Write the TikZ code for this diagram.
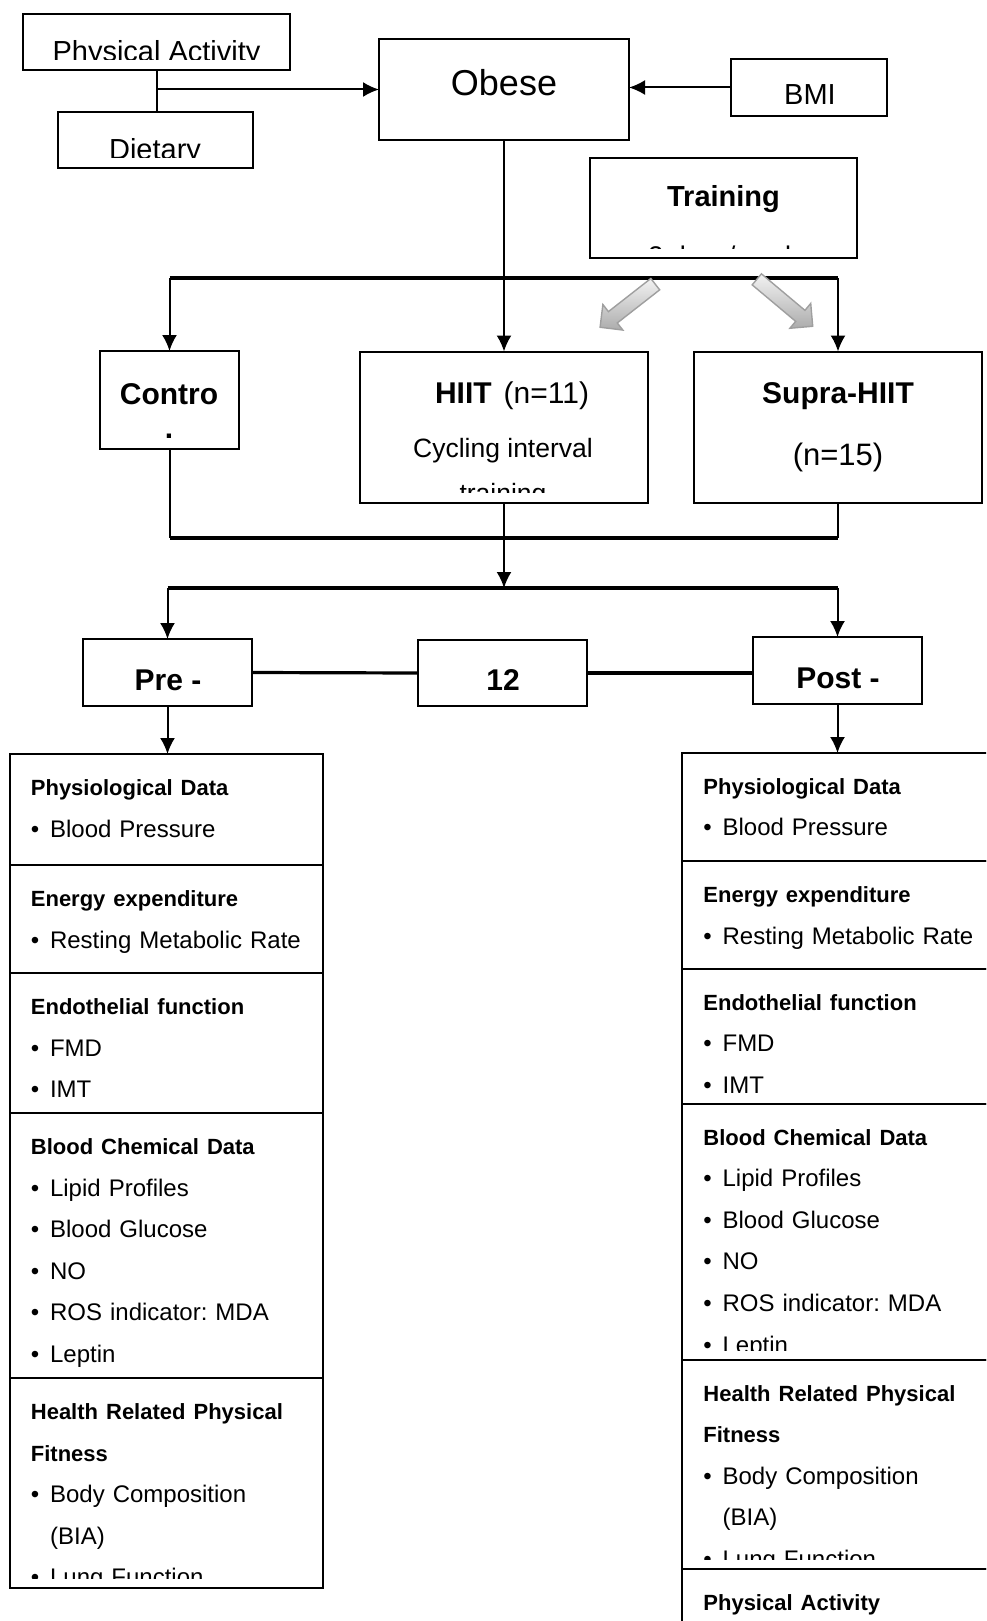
\documentclass[tikz,border=0pt]{standalone}
\usepackage{fontspec}
\setmainfont{Liberation Sans}
\usetikzlibrary{positioning,arrows.meta,shapes.arrows}
\frenchspacing

\newcommand{\sechead}[1]{{\bfseries\fontsize{11}{20.8}\selectfont #1}}
\newcommand{\bul}{\textbullet\hspace{0.45em}}

\begin{document}
\begin{tikzpicture}[x=0.5pt,y=-0.5pt,
	box/.style={draw,line width=1pt,inner sep=0pt,outer sep=0pt},
	lsec/.style={box,minimum width=156.5pt,anchor=north},
	rsec/.style={box,minimum width=161.5pt,anchor=north},
	txt/.style={inner sep=0pt,anchor=base},
	big/.style={txt,font=\bfseries\fontsize{15}{18}\selectfont},
	list/.style={inner sep=0pt,anchor=base west,text width=150pt,align=left,font=\fontsize{12}{20.8}\selectfont},
	line/.style={line width=1pt},
	bar/.style={line width=1.6pt},
	garrow/.style={single arrow,draw=gray!75,top color=gray!10,bottom color=gray!65,inner sep=3.25pt,single arrow head extend=4.5pt,line width=0.7pt},
	>={Latex[length=8pt,width=7.5pt]}]
	\path[use as bounding box,clip] (0,0) rectangle (986,1621);
	%
	% boxes
	\node[box,minimum width=133.5pt,minimum height=28pt] (pa) at (156.5,42) {};
	\node[box,minimum width=97.5pt,minimum height=28pt] (diet) at (155,140) {};
	\node[box,minimum width=125pt,minimum height=50.5pt] (obese) at (504,89.5) {};
	\node[box,minimum width=78pt,minimum height=28.5pt] (bmi) at (809,87.5) {};
	\node[box,minimum width=133.5pt,minimum height=50pt] (train) at (723.5,208.5) {};
	\node[box,minimum width=69.5pt,minimum height=49pt] (ctrl) at (169.5,400) {};
	\node[box,minimum width=144pt,minimum height=75.5pt] (hiit) at (504,427) {};
	\node[box,minimum width=144pt,minimum height=75.5pt] (supra) at (838,427) {};
	\node[box,minimum width=84.5pt,minimum height=33.5pt] (pre) at (167.5,672.5) {};
	\node[box,minimum width=84.5pt,minimum height=33pt] (twelve) at (502.5,673) {};
	\node[box,minimum width=84.5pt,minimum height=33.5pt] (post) at (837.5,670.5) {};
	%
	% texts
	\begin{scope}
		\clip (pa.north west) rectangle ([yshift=5pt]pa.south east);
		\node[txt,font=\fontsize{14.5}{17}\selectfont] (patxt) at (156.5,62) {Physical Activity};
	\end{scope}
	\begin{scope}
		\clip (diet.north west) rectangle ([yshift=5pt]diet.south east);
		\node[txt,font=\fontsize{14.5}{17}\selectfont] (diettxt) at (155,160) {Dietary};
	\end{scope}
	\node[txt,font=\fontsize{18}{22}\selectfont] (obesetxt) at (504,96) {Obese};
	\node[txt,font=\fontsize{14.5}{17}\selectfont] (bmitxt) at (810,105) {BMI};
	\node[txt,font=\bfseries\fontsize{14.5}{17}\selectfont] (traintxt) at (723.5,207) {Training};
	\begin{scope}
		\clip (train.north west) rectangle ([yshift=5pt]train.south east);
		\node[txt,font=\fontsize{13.5}{16}\selectfont] (trainsub) at (723.5,265) {3 days/week};
	\end{scope}
	\node[big] (ctrltxt) at (169,404) {Contro};
	\node[big] (ctrldot) at (169,438) {.};
	\node[txt,font=\fontsize{15}{18}\selectfont] (hiittxt) at (512,403) {\textbf{HIIT}\hspace{0.4em}(n=11)};
	\node[txt,font=\fontsize{13.25}{16}\selectfont] (hiitsub) at (503,457) {Cycling interval};
	\begin{scope}
		\clip (hiit.north west) rectangle ([yshift=5pt]hiit.south east);
		\node[txt,font=\fontsize{13.25}{16}\selectfont] (hiitsub2) at (503,502) {training};
	\end{scope}
	\node[big] (supratxt) at (838,403) {Supra-HIIT};
	\node[txt,font=\fontsize{15.5}{18}\selectfont] (supran) at (838,465) {(n=15)};
	\node[big] (pretxt) at (168,690) {Pre -};
	\node[big] (twelvetxt) at (503,690) {12};
	\node[big] (posttxt) at (838,688) {Post -};
	%
	% measurement lists
	\node[lsec,minimum height=55.5pt,anchor=north west] (lphys) at (9.5,754) {};
	\node[lsec,minimum height=54pt,below=0pt of lphys] (lenergy) {};
	\node[lsec,minimum height=70pt,below=0pt of lenergy] (lendo) {};
	\node[lsec,minimum height=132.5pt,below=0pt of lendo] (lblood) {};
	\node[lsec,minimum height=105pt,below=0pt of lblood] (lhealth) {};
	\node[rsec,minimum height=54pt,anchor=north west] (rphys) at (682,753) {};
	\node[rsec,minimum height=54pt,below=0pt of rphys] (renergy) {};
	\node[rsec,minimum height=67.5pt,below=0pt of renergy] (rendo) {};
	\node[rsec,minimum height=128pt,below=0pt of rendo] (rblood) {};
	\node[rsec,minimum height=104.5pt,below=0pt of rblood] (rhealth) {};
	\node[rsec,minimum height=60pt,below=0pt of rhealth] (ract) {};
	%
	\node[list] (lphystxt) at ([xshift=10.5pt,yshift=-20.75pt]lphys.north west)
		{\sechead{Physiological Data}\\ \bul Blood Pressure};
	\node[list] (lenergytxt) at ([xshift=10.5pt,yshift=-20.75pt]lenergy.north west)
		{\sechead{Energy expenditure}\\ \bul Resting Metabolic Rate};
	\node[list] (lendotxt) at ([xshift=10.5pt,yshift=-20.75pt]lendo.north west)
		{\sechead{Endothelial function}\\ \bul FMD\\ \bul IMT};
	\node[list] (lbloodtxt) at ([xshift=10.5pt,yshift=-20.75pt]lblood.north west)
		{\sechead{Blood Chemical Data}\\ \bul Lipid Profiles\\ \bul Blood Glucose\\ \bul NO\\ \bul ROS indicator: MDA\\ \bul Leptin};
	\begin{scope}
		\clip (lhealth.north west) rectangle ([yshift=5pt]lhealth.south east);
		\node[list] (lhealthtxt) at ([xshift=10.5pt,yshift=-20.75pt]lhealth.north west)
			{\sechead{Health Related Physical}\\ \sechead{Fitness}\\ \bul Body Composition\\ \hphantom{\bul}(BIA)\\ \bul Lung Function};
	\end{scope}
	\node[list] (rphystxt) at ([xshift=10.5pt,yshift=-20.5pt]rphys.north west)
		{\sechead{Physiological Data}\\ \bul Blood Pressure};
	\node[list] (renergytxt) at ([xshift=10.5pt,yshift=-20.75pt]renergy.north west)
		{\sechead{Energy expenditure}\\ \bul Resting Metabolic Rate};
	\node[list] (rendotxt) at ([xshift=10.5pt,yshift=-20.5pt]rendo.north west)
		{\sechead{Endothelial function}\\ \bul FMD\\ \bul IMT};
	\begin{scope}
		\clip (rblood.north west) rectangle ([yshift=5pt]rblood.south east);
		\node[list] (rbloodtxt) at ([xshift=10.5pt,yshift=-20.5pt]rblood.north west)
			{\sechead{Blood Chemical Data}\\ \bul Lipid Profiles\\ \bul Blood Glucose\\ \bul NO\\ \bul ROS indicator: MDA\\ \bul Leptin};
	\end{scope}
	\begin{scope}
		\clip (rhealth.north west) rectangle ([yshift=5pt]rhealth.south east);
		\node[list] (rhealthtxt) at ([xshift=10.5pt,yshift=-20.5pt]rhealth.north west)
			{\sechead{Health Related Physical}\\ \sechead{Fitness}\\ \bul Body Composition\\ \hphantom{\bul}(BIA)\\ \bul Lung Function};
	\end{scope}
	\node[list] (racttxt) at ([xshift=10.5pt,yshift=-20.5pt]ract.north west) {\sechead{Physical Activity}};
	%
	% connectors
	\coordinate (fork) at (504,278);
	\coordinate (join) at (504,538);
	\coordinate (fork2) at (504,588);
	\draw[line] (pa.south) -- (pa.south |- diet.north);
	\draw[line,->] (pa.south |- obese.west) -- (obese.west);
	\draw[line,->] (bmi.west) -- (bmi.west -| obese.east);
	\draw[line,->] (obese.south) -- (hiit.north);
	\draw[bar] (fork -| ctrl.north) -- (fork -| supra.north);
	\draw[line,->] (fork -| ctrl.north) -- (ctrl.north);
	\draw[line,->] (fork -| supra.north) -- (supra.north);
	\draw[line] (ctrl.south) -- (join -| ctrl.south);
	\draw[line] (supra.south) -- (join -| supra.south);
	\draw[bar] (join -| ctrl.south) -- (join -| supra.south);
	\draw[line,->] (hiit.south) -- (fork2);
	\draw[bar] (fork2 -| pre.north) -- (fork2 -| post.north);
	\draw[line,->] (fork2 -| pre.north) -- (pre.north);
	\draw[line,->] (fork2 -| post.north) -- (post.north);
	\draw[bar] (pre.east) -- (twelve.west);
	\draw[bar] (twelve.east) -- (twelve.east -| post.west);
	\draw[line,->] (pre.south) -- (pre.south |- lphys.north);
	\draw[line,->] (post.south) -- (post.south |- rphys.north);
	%
	% grey arrows under the training box
	\node[garrow,minimum height=35pt,rotate=218] (tleft) at (630.5,303.5) {};
	\node[garrow,minimum height=36.5pt,rotate=-40] (tright) at (782,300.5) {};
\end{tikzpicture}
\end{document}
